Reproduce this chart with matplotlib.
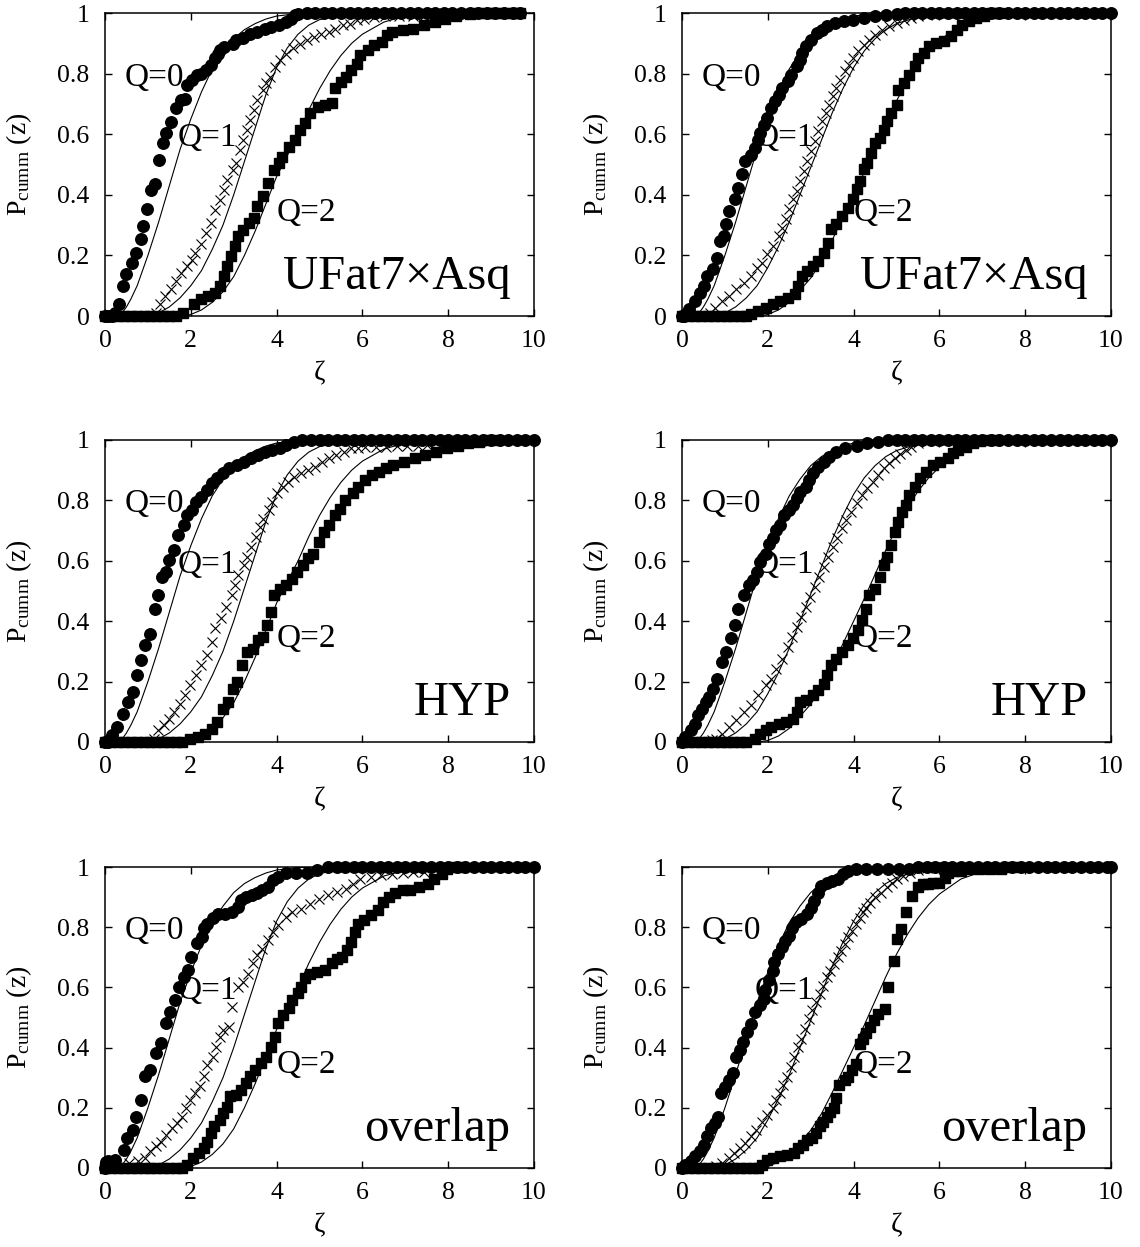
import matplotlib
matplotlib.use("Agg")
import matplotlib.pyplot as plt

plt.rcParams['font.family'] = ['Liberation Serif', 'DejaVu Serif']
plt.rcParams['mathtext.fontset'] = 'custom'
plt.rcParams['mathtext.rm'] = 'Liberation Serif'
plt.rcParams['mathtext.it'] = 'Liberation Serif:italic'

# ---------------- data ----------------
x_ticks = [0, 2, 4, 6, 8, 10]
y_ticks = [0, 0.2, 0.4, 0.6, 0.8, 1]
y_tick_labels = ["0", "0.2", "0.4", "0.6", "0.8", "1"]
panel_names = ["UFat7\u00d7Asq", "UFat7\u00d7Asq", "HYP", "HYP", "overlap", "overlap"]
q_labels = ["Q=0", "Q=1", "Q=2"]

# theory curves (thin solid lines)
theory_q0 = [(0.3, 0), (0.4, 0.01), (0.5, 0.03), (0.6, 0.055), (0.75, 0.1), (1.0, 0.2), (1.25, 0.31),
             (1.5, 0.43), (1.75, 0.55), (2.0, 0.65), (2.25, 0.74), (2.5, 0.815), (2.75, 0.87),
             (3.0, 0.915), (3.25, 0.945), (3.5, 0.965), (3.75, 0.98), (4.0, 0.99), (4.5, 0.998),
             (5.0, 1.0), (10, 1.0)]
theory_left_q1 = [(1.05, 0), (1.25, 0.01), (1.5, 0.03), (1.75, 0.06), (2.0, 0.1), (2.25, 0.15),
                  (2.5, 0.22), (2.75, 0.3), (3.0, 0.4), (3.25, 0.51), (3.5, 0.62), (3.75, 0.73),
                  (4.0, 0.82), (4.25, 0.885), (4.5, 0.93), (4.75, 0.96), (5.0, 0.978), (5.5, 0.993),
                  (6.0, 1.0), (10, 1.0)]
theory_right_q1 = [(0.8, 0), (1.0, 0.01), (1.25, 0.03), (1.5, 0.06), (1.75, 0.1), (2.0, 0.16),
                   (2.25, 0.23), (2.5, 0.31), (2.75, 0.4), (3.0, 0.49), (3.25, 0.58), (3.5, 0.67),
                   (3.75, 0.75), (4.0, 0.82), (4.25, 0.875), (4.5, 0.915), (4.75, 0.945), (5.0, 0.965),
                   (5.5, 0.987), (6.0, 0.996), (6.5, 1.0), (10, 1.0)]
theory_left_q2 = [(1.85, 0), (2.0, 0.005), (2.25, 0.02), (2.5, 0.045), (2.75, 0.08), (3.0, 0.13),
                  (3.25, 0.2), (3.5, 0.28), (3.75, 0.37), (4.0, 0.46), (4.25, 0.53), (4.5, 0.6),
                  (4.75, 0.68), (5.0, 0.75), (5.25, 0.81), (5.5, 0.86), (5.75, 0.9), (6.0, 0.93),
                  (6.5, 0.97), (7.0, 0.99), (7.5, 1.0), (10, 1.0)]
theory_right_q2 = [(1.8, 0), (2.0, 0.005), (2.25, 0.02), (2.5, 0.045), (2.75, 0.085), (3.0, 0.125),
                   (3.25, 0.18), (3.5, 0.25), (3.75, 0.325), (4.0, 0.4), (4.25, 0.475), (4.5, 0.555),
                   (4.75, 0.635), (5.0, 0.71), (5.25, 0.775), (5.5, 0.83), (5.75, 0.875), (6.0, 0.91),
                   (6.5, 0.96), (7.0, 0.985), (7.5, 0.996), (8.0, 1.0), (10, 1.0)]

# ---- UFat7xAsq, left ----
ufat_l_q0 = [(0, 0), (0.08, 0), (0.16, 0), (0.24, 0.01), (0.33, 0.038), (0.41, 0.099), (0.5, 0.14),
             (0.62, 0.175), (0.73, 0.208), (0.83, 0.254), (0.89, 0.296), (0.99, 0.353), (1.07, 0.417),
             (1.17, 0.436), (1.26, 0.515), (1.36, 0.57), (1.43, 0.603), (1.53, 0.641), (1.65, 0.685),
             (1.78, 0.713), (1.86, 0.715), (1.90, 0.762), (2.02, 0.778), (2.15, 0.795), (2.23, 0.8),
             (2.36, 0.811), (2.48, 0.828), (2.56, 0.85), (2.64, 0.866), (2.69, 0.877), (2.77, 0.888),
             (2.98, 0.899), (3.06, 0.91), (3.22, 0.916), (3.39, 0.932), (3.55, 0.937), (3.72, 0.948),
             (3.88, 0.954), (4.05, 0.959), (4.21, 0.97), (4.34, 0.981), (4.42, 0.992), (4.5, 0.998),
             (4.7, 1), (4.9, 1), (5.1, 1), (5.3, 1), (5.5, 1), (5.7, 1), (5.9, 1), (6.1, 1), (6.3, 1),
             (6.5, 1), (6.7, 1), (6.9, 1), (7.1, 1), (7.3, 1), (7.5, 1), (7.7, 1), (7.9, 1), (8.1, 1),
             (8.3, 1), (8.5, 1), (8.7, 1), (8.9, 1), (9.1, 1), (9.3, 1), (9.5, 1), (9.67, 1)]
ufat_l_q1 = [(1.0, 0), (1.06, 0), (1.12, 0), (1.18, 0.01), (1.28, 0.04), (1.4, 0.066), (1.53, 0.088),
             (1.65, 0.115), (1.78, 0.143), (1.9, 0.164), (2.02, 0.186), (2.1, 0.208), (2.23, 0.236),
             (2.36, 0.274), (2.48, 0.307), (2.56, 0.351), (2.69, 0.384), (2.77, 0.417), (2.85, 0.45),
             (2.98, 0.482), (3.06, 0.504), (3.14, 0.548), (3.22, 0.581), (3.31, 0.614), (3.39, 0.647),
             (3.47, 0.68), (3.55, 0.713), (3.68, 0.746), (3.76, 0.768), (3.84, 0.789), (3.97, 0.822),
             (4.09, 0.844), (4.21, 0.866), (4.38, 0.883), (4.55, 0.899), (4.71, 0.91), (4.88, 0.921),
             (5.04, 0.932), (5.21, 0.937), (5.37, 0.948), (5.54, 0.959), (5.7, 0.965), (5.87, 0.976),
             (6.03, 0.981), (6.28, 0.987), (6.53, 0.99), (6.86, 0.99), (7.19, 0.99), (7.44, 0.99),
             (7.7, 1)]
ufat_l_q2 = [(0, 0), (0.15, 0), (0.3, 0), (0.45, 0), (0.6, 0), (0.75, 0), (0.9, 0), (1.05, 0), (1.2, 0),
             (1.35, 0), (1.5, 0), (1.65, 0), (1.82, 0.011), (2.07, 0.038), (2.23, 0.055), (2.4, 0.066),
             (2.56, 0.077), (2.69, 0.099), (2.77, 0.132), (2.85, 0.164), (2.93, 0.197), (3.02, 0.23),
             (3.1, 0.263), (3.22, 0.285), (3.35, 0.307), (3.47, 0.323), (3.55, 0.362), (3.68, 0.395),
             (3.8, 0.439), (3.93, 0.482), (4.05, 0.504), (4.13, 0.526), (4.3, 0.559), (4.42, 0.581),
             (4.55, 0.614), (4.67, 0.636), (4.79, 0.669), (4.96, 0.691), (5.12, 0.696), (5.29, 0.702),
             (5.37, 0.751), (5.5, 0.773), (5.62, 0.789), (5.74, 0.811), (5.87, 0.833), (5.95, 0.861),
             (6.12, 0.877), (6.28, 0.894), (6.45, 0.905), (6.57, 0.927), (6.69, 0.937), (6.94, 0.943),
             (7.19, 0.948), (7.44, 0.959), (7.69, 0.97), (7.93, 0.981), (8.18, 0.989), (8.51, 0.996),
             (8.7, 1), (8.9, 1), (9.1, 1), (9.3, 1), (9.5, 1), (9.67, 1)]

# ---- UFat7xAsq, right ----
ufat_r_q0 = [(0, 0), (0.05, 0), (0.1, 0.005), (0.17, 0.022), (0.3, 0.049), (0.42, 0.077), (0.51, 0.099),
             (0.59, 0.132), (0.72, 0.154), (0.81, 0.192), (0.89, 0.247), (0.97, 0.264), (1.02, 0.302),
             (1.1, 0.346), (1.23, 0.385), (1.31, 0.423), (1.4, 0.467), (1.48, 0.511), (1.61, 0.533),
             (1.69, 0.555), (1.78, 0.582), (1.82, 0.604), (1.91, 0.632), (1.99, 0.654), (2.08, 0.687),
             (2.16, 0.709), (2.25, 0.731), (2.33, 0.753), (2.46, 0.775), (2.54, 0.797), (2.67, 0.824),
             (2.75, 0.846), (2.8, 0.868), (2.88, 0.89), (3.0, 0.912), (3.14, 0.934), (3.26, 0.945),
             (3.39, 0.956), (3.56, 0.967), (3.77, 0.975), (3.98, 0.978), (4.24, 0.984), (4.49, 0.989),
             (4.75, 0.995), (5.0, 0.998), (5.2, 1), (5.4, 1), (5.6, 1), (5.8, 1), (6.0, 1), (6.2, 1),
             (6.4, 1), (6.6, 1), (6.8, 1), (7.0, 1), (7.2, 1), (7.4, 1), (7.6, 1), (7.8, 1), (8.0, 1),
             (8.2, 1), (8.4, 1), (8.6, 1), (8.8, 1), (9.0, 1), (9.2, 1), (9.4, 1), (9.6, 1), (9.8, 1),
             (10.0, 1)]
ufat_r_q1 = [(0.5, 0), (0.58, 0), (0.66, 0.01), (0.76, 0.027), (0.93, 0.049), (1.1, 0.066), (1.27, 0.088),
             (1.44, 0.11), (1.61, 0.132), (1.74, 0.159), (1.86, 0.176), (1.99, 0.203), (2.12, 0.231),
             (2.25, 0.264), (2.33, 0.291), (2.42, 0.319), (2.5, 0.352), (2.58, 0.385), (2.67, 0.412),
             (2.75, 0.445), (2.84, 0.478), (2.92, 0.511), (3.01, 0.544), (3.09, 0.577), (3.18, 0.61),
             (3.26, 0.643), (3.35, 0.67), (3.43, 0.698), (3.52, 0.725), (3.6, 0.753), (3.69, 0.78),
             (3.81, 0.808), (3.9, 0.83), (3.98, 0.852), (4.11, 0.874), (4.24, 0.896), (4.36, 0.912),
             (4.49, 0.929), (4.66, 0.945), (4.83, 0.956), (5.0, 0.967), (5.17, 0.976), (5.34, 0.984),
             (5.51, 0.989), (5.72, 0.995), (5.95, 1), (6.2, 1)]
ufat_r_q2 = [(0, 0), (0.15, 0), (0.3, 0), (0.45, 0), (0.6, 0), (0.75, 0), (0.9, 0), (1.05, 0), (1.2, 0),
             (1.35, 0), (1.5, 0), (1.61, 0.005), (1.78, 0.016), (1.95, 0.027), (2.12, 0.038), (2.29, 0.049),
             (2.46, 0.06), (2.63, 0.071), (2.71, 0.099), (2.8, 0.132), (2.92, 0.148), (3.05, 0.165),
             (3.18, 0.181), (3.31, 0.209), (3.41, 0.242), (3.47, 0.286), (3.6, 0.302), (3.73, 0.33),
             (3.86, 0.357), (3.98, 0.385), (4.07, 0.418), (4.15, 0.445), (4.24, 0.484), (4.32, 0.505),
             (4.41, 0.538), (4.49, 0.571), (4.62, 0.588), (4.7, 0.615), (4.79, 0.643), (4.87, 0.67),
             (5.0, 0.698), (5.04, 0.747), (5.17, 0.769), (5.3, 0.797), (5.42, 0.824), (5.51, 0.852),
             (5.64, 0.868), (5.76, 0.89), (5.93, 0.901), (6.1, 0.907), (6.27, 0.923), (6.4, 0.945),
             (6.53, 0.962), (6.69, 0.973), (6.86, 0.984), (7.03, 0.991), (7.2, 1), (7.4, 1)]

# ---- HYP, left ----
hyp_l_q0 = [(0, 0), (0.06, 0), (0.12, 0.005), (0.17, 0.022), (0.29, 0.05), (0.41, 0.094), (0.54, 0.133),
            (0.65, 0.166), (0.75, 0.221), (0.85, 0.271), (0.93, 0.32), (1.04, 0.359), (1.16, 0.442),
            (1.24, 0.486), (1.33, 0.547), (1.43, 0.564), (1.49, 0.602), (1.62, 0.635), (1.7, 0.685),
            (1.83, 0.718), (1.91, 0.751), (2.03, 0.768), (2.12, 0.796), (2.24, 0.812), (2.37, 0.834),
            (2.49, 0.856), (2.61, 0.873), (2.74, 0.89), (2.9, 0.906), (3.07, 0.917), (3.24, 0.928),
            (3.4, 0.939), (3.57, 0.95), (3.73, 0.961), (3.9, 0.967), (4.07, 0.972), (4.23, 0.983),
            (4.4, 0.994), (4.6, 1), (4.8, 1), (5.0, 1), (5.2, 1), (5.4, 1), (5.6, 1), (5.8, 1), (6.0, 1),
            (6.2, 1), (6.4, 1), (6.6, 1), (6.8, 1), (7.0, 1), (7.2, 1), (7.4, 1), (7.6, 1), (7.8, 1),
            (8.0, 1), (8.2, 1), (8.4, 1), (8.6, 1), (8.8, 1), (9.0, 1), (9.2, 1), (9.4, 1), (9.6, 1),
            (9.8, 1), (10.0, 1)]
hyp_l_q1 = [(0.9, 0), (0.98, 0), (1.06, 0), (1.14, 0.01), (1.24, 0.039), (1.37, 0.055), (1.49, 0.077),
            (1.62, 0.099), (1.74, 0.127), (1.87, 0.155), (1.99, 0.188), (2.12, 0.221), (2.24, 0.254),
            (2.37, 0.287), (2.49, 0.331), (2.57, 0.376), (2.7, 0.409), (2.82, 0.448), (2.95, 0.486),
            (3.03, 0.519), (3.11, 0.552), (3.24, 0.586), (3.32, 0.613), (3.4, 0.646), (3.53, 0.68),
            (3.61, 0.713), (3.69, 0.74), (3.82, 0.768), (3.9, 0.796), (4.02, 0.823), (4.15, 0.845),
            (4.27, 0.862), (4.4, 0.878), (4.56, 0.89), (4.73, 0.901), (4.9, 0.912), (5.06, 0.928),
            (5.23, 0.939), (5.39, 0.95), (5.56, 0.961), (5.73, 0.972), (5.89, 0.975), (6.06, 0.978),
            (6.31, 0.978), (6.56, 0.978), (6.8, 0.98), (7.05, 0.98), (7.3, 0.98), (7.5, 0.982), (7.7, 1)]
hyp_l_q2 = [(0, 0), (0.15, 0), (0.3, 0), (0.45, 0), (0.6, 0), (0.75, 0), (0.9, 0), (1.05, 0), (1.2, 0),
            (1.35, 0), (1.5, 0), (1.65, 0), (1.8, 0), (1.99, 0.011), (2.16, 0.017), (2.32, 0.028),
            (2.49, 0.044), (2.61, 0.066), (2.74, 0.11), (2.86, 0.133), (2.99, 0.177), (3.07, 0.199),
            (3.2, 0.254), (3.32, 0.298), (3.44, 0.309), (3.57, 0.337), (3.69, 0.348), (3.78, 0.387),
            (3.86, 0.431), (3.94, 0.486), (4.07, 0.508), (4.23, 0.519), (4.36, 0.541), (4.48, 0.564),
            (4.61, 0.586), (4.73, 0.608), (4.85, 0.624), (4.98, 0.663), (5.1, 0.696), (5.23, 0.718),
            (5.35, 0.751), (5.48, 0.773), (5.6, 0.801), (5.77, 0.823), (5.89, 0.845), (6.06, 0.867),
            (6.22, 0.884), (6.39, 0.895), (6.56, 0.906), (6.72, 0.917), (6.97, 0.928), (7.22, 0.939),
            (7.47, 0.95), (7.72, 0.961), (7.97, 0.972), (8.22, 0.981), (8.46, 0.989), (8.71, 0.994),
            (8.9, 1), (9.1, 1)]

# ---- HYP, right ----
hyp_r_q0 = [(0, 0), (0.08, 0.017), (0.21, 0.039), (0.3, 0.061), (0.38, 0.088), (0.47, 0.11), (0.55, 0.133),
            (0.64, 0.149), (0.72, 0.177), (0.81, 0.21), (0.93, 0.265), (1.02, 0.298), (1.14, 0.343),
            (1.23, 0.387), (1.31, 0.442), (1.44, 0.486), (1.57, 0.519), (1.65, 0.536), (1.74, 0.564),
            (1.82, 0.597), (1.95, 0.624), (2.03, 0.657), (2.12, 0.674), (2.2, 0.702), (2.29, 0.718),
            (2.37, 0.751), (2.5, 0.768), (2.58, 0.785), (2.67, 0.807), (2.75, 0.829), (2.88, 0.845),
            (2.97, 0.867), (3.05, 0.89), (3.18, 0.912), (3.31, 0.928), (3.43, 0.945), (3.6, 0.961),
            (3.81, 0.972), (4.07, 0.981), (4.32, 0.989), (4.58, 0.994), (4.8, 1), (5.0, 1), (5.2, 1),
            (5.4, 1), (5.6, 1), (5.8, 1), (6.0, 1), (6.2, 1), (6.4, 1), (6.6, 1), (6.8, 1), (7.0, 1),
            (7.2, 1), (7.4, 1), (7.6, 1), (7.8, 1), (8.0, 1), (8.2, 1), (8.4, 1), (8.6, 1), (8.8, 1),
            (9.0, 1), (9.2, 1), (9.4, 1), (9.6, 1), (9.8, 1), (10.0, 1)]
hyp_r_q1 = [(0.4, 0), (0.5, 0), (0.6, 0), (0.7, 0.005), (0.8, 0.01), (0.93, 0.028), (1.1, 0.05),
            (1.27, 0.072), (1.44, 0.099), (1.61, 0.122), (1.78, 0.155), (1.95, 0.188), (2.08, 0.21),
            (2.2, 0.243), (2.33, 0.276), (2.46, 0.315), (2.56, 0.348), (2.67, 0.381), (2.77, 0.414),
            (2.88, 0.448), (2.98, 0.481), (3.09, 0.514), (3.19, 0.547), (3.31, 0.58), (3.41, 0.613),
            (3.52, 0.646), (3.62, 0.674), (3.73, 0.707), (3.83, 0.735), (3.94, 0.762), (4.07, 0.79),
            (4.19, 0.818), (4.32, 0.84), (4.45, 0.862), (4.58, 0.884), (4.7, 0.906), (4.83, 0.923),
            (4.96, 0.939), (5.08, 0.952), (5.21, 0.967), (5.34, 0.978), (5.51, 0.989), (5.72, 0.997),
            (5.95, 1), (6.2, 1)]
hyp_r_q2 = [(0, 0), (0.15, 0), (0.3, 0), (0.45, 0), (0.6, 0), (0.75, 0), (0.9, 0), (1.05, 0), (1.2, 0),
            (1.35, 0), (1.5, 0), (1.69, 0.011), (1.82, 0.028), (1.95, 0.039), (2.08, 0.05), (2.25, 0.061),
            (2.42, 0.066), (2.58, 0.077), (2.67, 0.099), (2.75, 0.133), (2.88, 0.138), (3.05, 0.155),
            (3.18, 0.171), (3.31, 0.193), (3.39, 0.221), (3.47, 0.254), (3.6, 0.276), (3.73, 0.298),
            (3.86, 0.32), (3.98, 0.343), (4.11, 0.37), (4.19, 0.403), (4.28, 0.442), (4.36, 0.486),
            (4.49, 0.508), (4.62, 0.547), (4.7, 0.586), (4.79, 0.613), (4.87, 0.652), (4.96, 0.696),
            (5.04, 0.729), (5.13, 0.762), (5.21, 0.785), (5.3, 0.818), (5.42, 0.845), (5.55, 0.873),
            (5.68, 0.895), (5.85, 0.917), (6.02, 0.928), (6.19, 0.939), (6.31, 0.956), (6.44, 0.967),
            (6.61, 0.978), (6.78, 0.989), (6.95, 0.997), (7.15, 1), (7.35, 1)]

# ---- overlap, left ----
ovl_l_q0 = [(0, 0), (0.03, 0.02), (0.07, 0.022), (0.15, 0.02), (0.23, 0.028), (0.44, 0.061), (0.52, 0.099),
            (0.65, 0.127), (0.73, 0.171), (0.85, 0.227), (0.94, 0.304), (1.06, 0.326), (1.18, 0.381),
            (1.31, 0.414), (1.43, 0.481), (1.51, 0.519), (1.64, 0.558), (1.72, 0.602), (1.85, 0.635),
            (1.93, 0.657), (2.01, 0.702), (2.14, 0.746), (2.26, 0.768), (2.3, 0.796), (2.38, 0.812),
            (2.51, 0.829), (2.63, 0.845), (2.8, 0.845), (2.96, 0.851), (3.09, 0.867), (3.17, 0.889),
            (3.29, 0.9), (3.42, 0.906), (3.54, 0.912), (3.67, 0.923), (3.79, 0.934), (3.92, 0.956),
            (4.04, 0.967), (4.21, 0.98), (4.45, 0.98), (4.7, 0.98), (4.95, 0.989), (5.2, 1), (5.4, 1),
            (5.6, 1), (5.8, 1), (6.0, 1), (6.2, 1), (6.4, 1), (6.6, 1), (6.8, 1), (7.0, 1), (7.2, 1),
            (7.4, 1), (7.6, 1), (7.8, 1), (8.0, 1), (8.2, 1), (8.4, 1), (8.6, 1), (8.8, 1), (9.0, 1),
            (9.2, 1), (9.4, 1), (9.6, 1), (9.8, 1), (10.0, 1)]
ovl_l_q1 = [(0.45, 0), (0.56, 0.017), (0.77, 0.022), (0.94, 0.033), (1.06, 0.055), (1.18, 0.072),
            (1.31, 0.088), (1.43, 0.11), (1.56, 0.133), (1.68, 0.149), (1.8, 0.171), (1.89, 0.199),
            (1.97, 0.227), (2.09, 0.249), (2.22, 0.271), (2.3, 0.304), (2.38, 0.343), (2.51, 0.37),
            (2.59, 0.403), (2.67, 0.436), (2.76, 0.459), (2.88, 0.47), (2.96, 0.536), (3.09, 0.602),
            (3.21, 0.619), (3.34, 0.646), (3.46, 0.68), (3.54, 0.707), (3.67, 0.729), (3.79, 0.757),
            (3.92, 0.785), (4.04, 0.807), (4.21, 0.834), (4.37, 0.851), (4.58, 0.862), (4.78, 0.878),
            (4.99, 0.895), (5.2, 0.906), (5.41, 0.917), (5.61, 0.928), (5.78, 0.945), (5.94, 0.961),
            (6.19, 0.967), (6.44, 0.972), (6.69, 0.978), (6.94, 0.98), (7.19, 0.983), (7.43, 0.983),
            (7.7, 1)]
ovl_l_q2 = [(0, 0), (0.15, 0), (0.3, 0), (0.45, 0), (0.6, 0), (0.75, 0), (0.9, 0), (1.05, 0), (1.2, 0),
            (1.35, 0), (1.5, 0), (1.65, 0), (1.8, 0), (1.9, 0.01), (2.05, 0.033), (2.18, 0.05), (2.3, 0.066),
            (2.38, 0.088), (2.47, 0.116), (2.55, 0.138), (2.67, 0.16), (2.76, 0.182), (2.84, 0.204),
            (2.92, 0.238), (3.05, 0.243), (3.17, 0.26), (3.29, 0.282), (3.38, 0.304), (3.5, 0.326),
            (3.63, 0.348), (3.75, 0.37), (3.87, 0.403), (3.96, 0.436), (4.04, 0.481), (4.16, 0.508),
            (4.29, 0.53), (4.37, 0.558), (4.5, 0.58), (4.58, 0.602), (4.66, 0.63), (4.78, 0.646),
            (4.95, 0.652), (5.12, 0.657), (5.28, 0.68), (5.41, 0.696), (5.53, 0.702), (5.65, 0.724),
            (5.74, 0.751), (5.82, 0.785), (5.9, 0.812), (6.03, 0.823), (6.19, 0.84), (6.36, 0.856),
            (6.48, 0.884), (6.61, 0.9), (6.77, 0.912), (6.94, 0.923), (7.1, 0.923), (7.31, 0.934),
            (7.52, 0.945), (7.68, 0.961), (7.85, 0.978), (7.97, 0.994), (8.15, 1), (8.35, 1)]

# ---- overlap, right ----
ovl_r_q0 = [(0, 0), (0.08, 0.011), (0.21, 0.022), (0.3, 0.039), (0.42, 0.055), (0.51, 0.077), (0.59, 0.105),
            (0.68, 0.132), (0.76, 0.149), (0.84, 0.171), (0.91, 0.248), (1.01, 0.27), (1.1, 0.292),
            (1.18, 0.314), (1.25, 0.369), (1.35, 0.391), (1.43, 0.419), (1.52, 0.452), (1.6, 0.48),
            (1.69, 0.518), (1.81, 0.54), (1.9, 0.562), (1.94, 0.59), (2.03, 0.623), (2.11, 0.656),
            (2.15, 0.684), (2.24, 0.711), (2.32, 0.733), (2.41, 0.755), (2.49, 0.772), (2.57, 0.799),
            (2.66, 0.816), (2.78, 0.827), (2.91, 0.843), (3.0, 0.865), (3.08, 0.888), (3.16, 0.915),
            (3.25, 0.937), (3.38, 0.948), (3.5, 0.954), (3.63, 0.959), (3.76, 0.976), (3.88, 0.987),
            (4.05, 0.992), (4.3, 0.992), (4.55, 0.992), (4.8, 0.992), (5.05, 0.995), (5.3, 0.995),
            (5.5, 1), (5.7, 1), (5.9, 1), (6.1, 1), (6.3, 1), (6.5, 1), (6.7, 1), (6.9, 1), (7.1, 1),
            (7.3, 1), (7.5, 1), (7.7, 1), (7.9, 1), (8.1, 1), (8.3, 1), (8.5, 1), (8.7, 1), (8.9, 1),
            (9.1, 1), (9.3, 1), (9.5, 1), (9.7, 1), (9.9, 1), (10.0, 1)]
ovl_r_q1 = [(0.4, 0), (0.5, 0), (0.6, 0), (0.7, 0), (0.8, 0.005), (0.93, 0.017), (1.1, 0.033),
            (1.22, 0.05), (1.35, 0.066), (1.48, 0.083), (1.6, 0.105), (1.73, 0.127), (1.86, 0.154),
            (1.98, 0.176), (2.11, 0.198), (2.19, 0.226), (2.28, 0.248), (2.36, 0.276), (2.45, 0.303),
            (2.53, 0.336), (2.62, 0.369), (2.7, 0.402), (2.78, 0.43), (2.87, 0.463), (2.95, 0.496),
            (3.04, 0.524), (3.12, 0.551), (3.21, 0.579), (3.29, 0.606), (3.38, 0.634), (3.46, 0.656),
            (3.54, 0.678), (3.63, 0.7), (3.71, 0.722), (3.8, 0.744), (3.88, 0.766), (3.97, 0.788),
            (4.05, 0.81), (4.14, 0.832), (4.22, 0.849), (4.3, 0.865), (4.39, 0.882), (4.51, 0.899),
            (4.64, 0.915), (4.77, 0.932), (4.89, 0.948), (5.02, 0.959), (5.15, 0.97), (5.32, 0.981),
            (5.49, 0.989), (5.7, 0.996), (5.9, 1), (6.1, 1)]
ovl_r_q2 = [(0, 0), (0.15, 0), (0.3, 0), (0.45, 0), (0.6, 0), (0.75, 0), (0.9, 0), (1.05, 0), (1.2, 0),
            (1.35, 0), (1.5, 0), (1.65, 0), (1.78, 0), (1.86, 0.011), (1.98, 0.028), (2.11, 0.033),
            (2.28, 0.039), (2.45, 0.044), (2.62, 0.05), (2.7, 0.066), (2.83, 0.077), (2.91, 0.094),
            (3.04, 0.099), (3.12, 0.116), (3.21, 0.138), (3.29, 0.154), (3.38, 0.171), (3.46, 0.187),
            (3.54, 0.198), (3.59, 0.232), (3.67, 0.276), (3.8, 0.292), (3.88, 0.303), (3.97, 0.325),
            (4.05, 0.347), (4.14, 0.413), (4.22, 0.43), (4.3, 0.447), (4.39, 0.469), (4.47, 0.491),
            (4.56, 0.513), (4.73, 0.529), (4.81, 0.601), (4.94, 0.689), (5.02, 0.761), (5.11, 0.794),
            (5.23, 0.849), (5.36, 0.904), (5.49, 0.932), (5.61, 0.943), (5.74, 0.943), (5.86, 0.948),
            (5.99, 0.948), (6.12, 0.965), (6.2, 0.981), (6.33, 0.987), (6.5, 0.987), (6.67, 0.992),
            (6.92, 0.992), (7.17, 0.992), (7.43, 0.992), (7.6, 1), (7.8, 1)]

panels = [
    (ufat_l_q0, ufat_l_q1, ufat_l_q2, theory_q0, theory_left_q1, theory_left_q2),
    (ufat_r_q0, ufat_r_q1, ufat_r_q2, theory_q0, theory_right_q1, theory_right_q2),
    (hyp_l_q0, hyp_l_q1, hyp_l_q2, theory_q0, theory_left_q1, theory_left_q2),
    (hyp_r_q0, hyp_r_q1, hyp_r_q2, theory_q0, theory_right_q1, theory_right_q2),
    (ovl_l_q0, ovl_l_q1, ovl_l_q2, theory_q0, theory_left_q1, theory_left_q2),
    (ovl_r_q0, ovl_r_q1, ovl_r_q2, theory_q0, theory_right_q1, theory_right_q2),
]

# ---------------- layout ----------------
W, H = 1140, 1247
fig = plt.figure(figsize=(W / 100, H / 100), dpi=100)
col_left = [105, 682]
col_w = 429
rows = [(13, 316), (440, 742), (867, 1168)]

q_label_pos = [(0.45, 0.76), (1.7, 0.56), (4.0, 0.315)]

for i, (q0, q1, q2, t0, t1, t2) in enumerate(panels):
    r, c = divmod(i, 2)
    top, bot = rows[r]
    ax = fig.add_axes([col_left[c] / W, 1 - bot / H, col_w / W, (bot - top) / H])

    for t in (t0, t1, t2):
        tx, ty = zip(*t)
        ax.plot(tx, ty, color='black', lw=0.8, zorder=2)

    x0, y0 = zip(*q0)
    ax.plot(x0, y0, linestyle='none', marker='o', ms=8.3, color='black', clip_on=False, zorder=3)
    x1, y1 = zip(*q1)
    ax.plot(x1, y1, linestyle='none', marker='x', ms=7.5, mew=0.8, color='black', clip_on=False, zorder=3)
    x2, y2 = zip(*q2)
    ax.plot(x2, y2, linestyle='none', marker='s', ms=7.4, color='black', clip_on=False, zorder=3)

    for lab, (lx, ly) in zip(q_labels, q_label_pos):
        ax.text(lx, ly, lab, fontsize=24, ha='left', va='baseline', zorder=4)
    ax.text(9.45, 0.09, panel_names[i], fontsize=35, ha='right', va='baseline', zorder=4)

    ax.set_xlim(0, 10)
    ax.set_ylim(0, 1)
    ax.set_xticks(x_ticks)
    ax.set_xticklabels([str(v) for v in x_ticks])
    ax.set_yticks(y_ticks)
    ax.set_yticklabels(y_tick_labels)
    ax.tick_params(direction='in', top=True, right=True, length=5, width=1,
                   labelsize=18.5)
    ax.tick_params(axis='x', pad=10)
    ax.tick_params(axis='y', pad=11)
    for s in ax.spines.values():
        s.set_linewidth(1.1)
    ax.set_xlabel('\u03b6', fontsize=20)
    ax.xaxis.set_label_coords(0.5, -0.15)
    ax.set_ylabel(r'P$_{\mathrm{cumm}}$ (z)', fontsize=20)
    ax.yaxis.set_label_coords(-0.165, 0.5)

fig.savefig('out.png', dpi=100)
